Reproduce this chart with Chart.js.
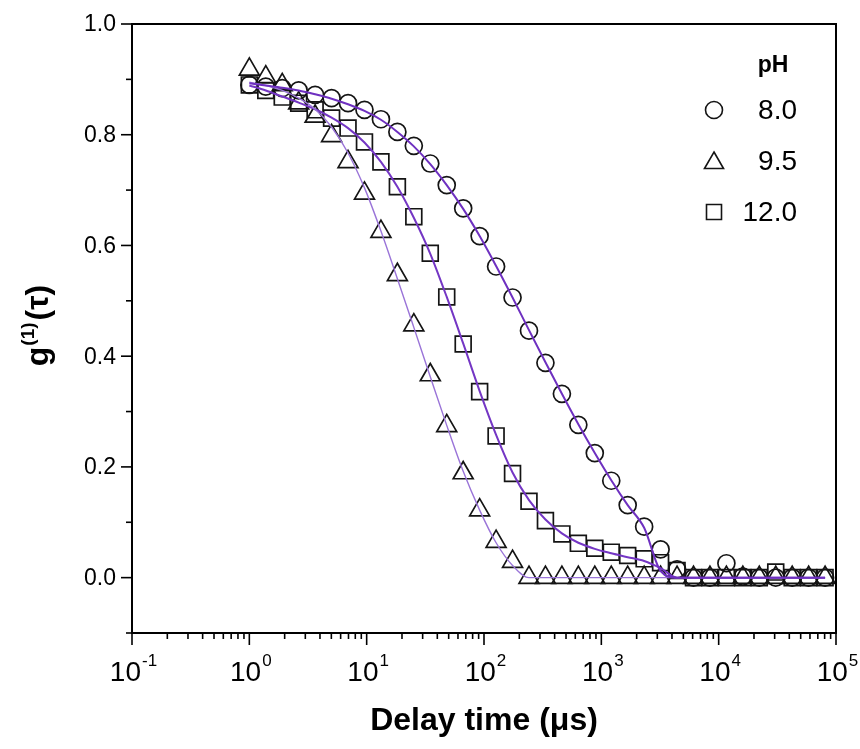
<!DOCTYPE html>
<html><head><meta charset="utf-8">
<script src="https://cdn.jsdelivr.net/npm/chart.js@4/dist/chart.umd.min.js"></script>
<style>html,body{margin:0;padding:0;background:#fff}canvas{display:block}</style>
</head><body>
<canvas id="c" width="860" height="749"></canvas>
<script>
// ---- data ----
const delayTimes = [1.0, 1.381, 1.907, 2.634, 3.637, 5.023, 6.937, 9.581, 13.23, 18.27, 25.23, 34.85, 48.13, 66.47, 91.80, 126.8, 175.1, 241.8, 333.9, 461.2, 636.8, 879.5, 1215, 1677, 2317, 3199, 4418, 6102, 8427, 11638, 16069, 22192, 30648, 42330, 58460, 80724];
const g1_pH80 = [0.890, 0.887, 0.884, 0.880, 0.872, 0.866, 0.857, 0.845, 0.828, 0.805, 0.780, 0.748, 0.709, 0.667, 0.617, 0.562, 0.506, 0.446, 0.388, 0.332, 0.276, 0.225, 0.175, 0.131, 0.092, 0.051, 0.015, 0.000, 0.000, 0.026, 0.002, 0.000, 0.000, 0.000, 0.000, 0.000];
const g1_pH95 = [0.918, 0.904, 0.890, 0.857, 0.833, 0.798, 0.751, 0.694, 0.625, 0.547, 0.456, 0.366, 0.274, 0.189, 0.122, 0.065, 0.029, 0.000, 0.000, 0.000, 0.000, 0.000, 0.000, 0.000, 0.000, 0.000, 0.000, 0.000, 0.000, 0.000, 0.000, 0.000, 0.000, 0.000, 0.000, 0.000];
const g1_pH120 = [0.890, 0.880, 0.868, 0.857, 0.845, 0.830, 0.812, 0.787, 0.751, 0.706, 0.652, 0.586, 0.507, 0.422, 0.336, 0.256, 0.188, 0.138, 0.103, 0.079, 0.062, 0.053, 0.046, 0.040, 0.034, 0.027, 0.013, 0.000, 0.000, 0.000, 0.000, 0.000, 0.010, 0.000, 0.000, 0.000];
const fit_pH80 = [0.893, 0.889, 0.885, 0.880, 0.873, 0.865, 0.855, 0.843, 0.827, 0.805, 0.779, 0.747, 0.709, 0.666, 0.617, 0.563, 0.506, 0.447, 0.389, 0.332, 0.277, 0.225, 0.176, 0.131, 0.090, 0.012, 0.000, 0.000, 0.000, 0.000, 0.000, 0.000, 0.000, 0.000, 0.000, 0.000];
const fit_pH95 = [0.895, 0.889, 0.880, 0.866, 0.846, 0.814, 0.767, 0.704, 0.626, 0.540, 0.452, 0.363, 0.275, 0.192, 0.122, 0.063, 0.022, 0.000, 0.000, 0.000, 0.000, 0.000, 0.000, 0.000, 0.000, 0.000, 0.000, 0.000, 0.000, 0.000, 0.000, 0.000, 0.000, 0.000, 0.000, 0.000];
const fit_pH120 = [0.889, 0.880, 0.869, 0.858, 0.846, 0.831, 0.812, 0.786, 0.751, 0.706, 0.650, 0.585, 0.507, 0.423, 0.337, 0.258, 0.190, 0.140, 0.105, 0.080, 0.063, 0.052, 0.044, 0.037, 0.030, 0.017, 0.000, 0.000, 0.000, 0.000, 0.000, 0.000, 0.000, 0.000, 0.000, 0.000];
const seriesLabels = ['8.0', '9.5', '12.0'];
const legendTitle = 'pH';
const xTickExponents = [-1, 0, 1, 2, 3, 4, 5];
const yTickLabels = ['0.0', '0.2', '0.4', '0.6', '0.8', '1.0'];
const xTitle = 'Delay time (\u03bcs)';
const yTitleBase = 'g', yTitleSup = '(1)', yTitleTail = '(\u03c4)';

// ---- styles ----
const FONT = '"Liberation Sans", Arial, sans-serif';
const MARK = '#141414';
const pts = (ys) => delayTimes.map((x, i) => ({x, y: ys[i]}));

function marker(label, ys, style, r) {
  return {type: 'scatter', label, data: pts(ys), showLine: false, pointStyle: style,
    pointRadius: r, pointHoverRadius: r, borderColor: MARK, pointBorderWidth: 1.7,
    backgroundColor: 'rgba(0,0,0,0)', order: 2};
}
function fitLine(ys, color, w) {
  return {type: 'line', label: 'fit', data: pts(ys), borderColor: color, borderWidth: w,
    pointRadius: 0, fill: false, cubicInterpolationMode: 'monotone', order: 1};
}

const decor = {
  id: 'decor',
  afterDraw(chart) {
    const ctx = chart.ctx, a = chart.chartArea;
    const xs = chart.scales.x, ys = chart.scales.y;
    ctx.save();
    ctx.strokeStyle = '#000'; ctx.fillStyle = '#000';
    // frame
    ctx.lineWidth = 2;
    ctx.strokeRect(a.left, a.top, a.right - a.left, a.bottom - a.top);
    // x ticks
    ctx.lineWidth = 1.6;
    for (let d = -1; d <= 4; d++) {
      for (let k = 1; k <= 9; k++) {
        const px = xs.getPixelForValue(k * Math.pow(10, d));
        const len = k === 1 ? 12 : 6;
        ctx.beginPath(); ctx.moveTo(px, a.bottom); ctx.lineTo(px, a.bottom + len); ctx.stroke();
      }
    }
    { const px = xs.getPixelForValue(1e5);
      ctx.beginPath(); ctx.moveTo(px, a.bottom); ctx.lineTo(px, a.bottom + 12); ctx.stroke(); }
    // y ticks
    for (let i = -1; i <= 10; i++) {
      const py = ys.getPixelForValue(i / 10);
      const len = (i % 2 === 0) ? 11 : 6;
      ctx.beginPath(); ctx.moveTo(a.left, py); ctx.lineTo(a.left - len, py); ctx.stroke();
    }
    // y tick labels
    ctx.font = '23px ' + FONT; ctx.textAlign = 'right'; ctx.textBaseline = 'middle';
    yTickLabels.forEach((t) => {
      ctx.fillText(t, a.left - 16, ys.getPixelForValue(parseFloat(t)) + 1);
    });
    // x tick labels 10^n
    ctx.textBaseline = 'alphabetic'; ctx.textAlign = 'left';
    xTickExponents.forEach((e) => {
      const px = xs.getPixelForValue(Math.pow(10, e));
      ctx.font = '28px ' + FONT; const wb = ctx.measureText('10').width;
      ctx.font = '17px ' + FONT; const es = String(e);
      const we = ctx.measureText(es).width;
      const x0 = px - (wb + we) / 2 + 1;
      ctx.font = '28px ' + FONT; ctx.fillText('10', x0, a.bottom + 48);
      ctx.font = '17px ' + FONT; ctx.fillText(es, x0 + wb + 1, a.bottom + 33);
    });
    // x title
    ctx.font = 'bold 32px ' + FONT; ctx.textAlign = 'center';
    ctx.fillText(xTitle, (a.left + a.right) / 2, 730);
    // y title (rotated)
    ctx.save();
    ctx.translate(48, 326); ctx.rotate(-Math.PI / 2);
    ctx.textAlign = 'left';
    ctx.font = 'bold 32px ' + FONT; const w1 = ctx.measureText(yTitleBase).width;
    const w3 = ctx.measureText(yTitleTail).width;
    ctx.font = 'bold 19px ' + FONT; const w2 = ctx.measureText(yTitleSup).width;
    let sx = -(w1 + w2 + w3 + 2) / 2;
    ctx.font = 'bold 32px ' + FONT; ctx.fillText(yTitleBase, sx, 0); sx += w1 + 1;
    ctx.font = 'bold 19px ' + FONT; ctx.fillText(yTitleSup, sx, -14); sx += w2 + 2;
    ctx.font = 'bold 32px ' + FONT; ctx.fillText(yTitleTail, sx, 0);
    ctx.restore();
    // legend
    ctx.font = 'bold 23px ' + FONT; ctx.textAlign = 'center'; ctx.textBaseline = 'middle';
    ctx.fillText(legendTitle, 773, 66);
    ctx.font = '28px ' + FONT; ctx.textAlign = 'right';
    const ly = [110, 161, 212];
    const styles = ['circle', 'triangle', 'rect'];
    ctx.strokeStyle = MARK; ctx.lineWidth = 1.6;
    seriesLabels.forEach((lab, i) => {
      const y = ly[i], x = 714;
      ctx.beginPath();
      if (styles[i] === 'circle') ctx.arc(x, y, 8.5, 0, Math.PI * 2);
      else if (styles[i] === 'triangle') {
        const r = 11; ctx.moveTo(x, y - r + 2); ctx.lineTo(x + 0.866 * r, y + 0.5 * r + 2); ctx.lineTo(x - 0.866 * r, y + 0.5 * r + 2); ctx.closePath();
      } else { ctx.rect(x - 7.5, y - 7.5, 15, 15); }
      ctx.stroke();
      ctx.fillText(lab, 797, y + 1);
    });
    ctx.restore();
  }
};

new Chart(document.getElementById('c'), {
  data: {
    datasets: [
      fitLine(fit_pH80, '#6e30c0', 2),
      fitLine(fit_pH95, '#9a74d8', 1.4),
      fitLine(fit_pH120, '#7436c4', 2),
      marker(seriesLabels[0], g1_pH80, 'circle', 8.5),
      marker(seriesLabels[1], g1_pH95, 'triangle', 11.5),
      marker(seriesLabels[2], g1_pH120, 'rect', 11.2)
    ]
  },
  options: {
    responsive: false, animation: false, devicePixelRatio: 1,
    layout: {padding: {top: 24, right: 24, left: 0, bottom: 0}},
    plugins: {legend: {display: false}, tooltip: {enabled: false}, title: {display: false}},
    scales: {
      x: {type: 'logarithmic', min: 0.1, max: 1e5,
        grid: {display: false}, border: {display: false}, ticks: {display: false},
        afterFit(s) { s.height = 116; }},
      y: {type: 'linear', min: -0.1, max: 1.0,
        grid: {display: false}, border: {display: false}, ticks: {display: false},
        afterFit(s) { s.width = 132; }}
    }
  },
  plugins: [decor]
});
</script>
</body></html>
